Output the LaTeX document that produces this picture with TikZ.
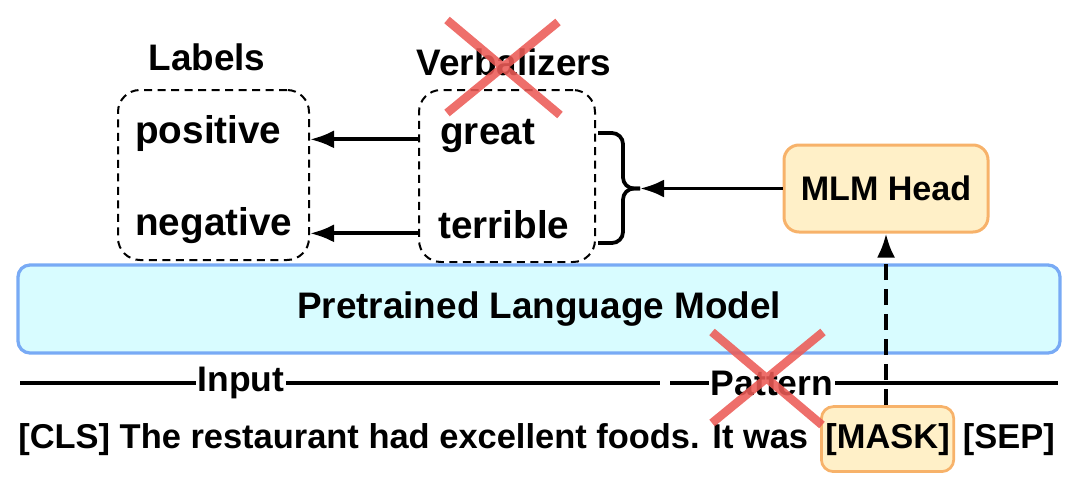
\documentclass[tikz,border=0pt]{standalone}
\usepackage{fontspec}
\setmainfont{Liberation Sans}
\usepackage{xcolor}
\usetikzlibrary{arrows.meta,positioning,calc}

\definecolor{plmfill}{HTML}{D8FCFF}
\definecolor{plmdraw}{HTML}{78AAF5}
\definecolor{headfill}{HTML}{FFF0C8}
\definecolor{headdraw}{HTML}{F7B26A}
\definecolor{crossred}{HTML}{EC5B56}

\begin{document}
\begin{tikzpicture}[
      x=0.2mm, y=-0.2mm,
      font=\fontsize{21}{25}\selectfont\bfseries,
      ttl/.style={inner sep=0pt, anchor=base},
      word/.style={inner sep=0pt, anchor=base west, font=\fontsize{22}{26}\selectfont\bfseries},
      grp/.style={draw, dashed, dash pattern=on 1.6mm off 1.1mm, line width=0.4mm,
                  rounded corners=4.4mm},
      arr/.style={-{Latex[length=4.8mm,width=3.6mm]}, line width=0.75mm},
      brc/.style={line width=0.75mm, rounded corners=2.2mm},
      plm/.style={draw=plmdraw, fill=plmfill, line width=0.65mm, rounded corners=2.4mm,
                  minimum width=208.4mm, minimum height=17.6mm},
      head/.style={draw=headdraw, fill=headfill, line width=0.6mm, rounded corners=3mm},
      rule/.style={line width=0.8mm},
      tag/.style={fill=white, inner xsep=0.3mm, inner ysep=0pt,
                  font=\fontsize{20.2}{24}\selectfont\bfseries},
      sent/.style={inner sep=0pt, anchor=base west,
                   font=\fontsize{19.6}{24}\selectfont\bfseries},
      cross/.style={crossred, line width=1.7mm, opacity=0.88}]

    \useasboundingbox (0,0) rectangle (1080,487);

    %% ---- top row: labels and verbalizers ----
    \node[ttl] (tl) at (207,70) {Labels};
    \node[ttl] (tv) at (514,75) {Verbalizers};
    \node[grp, minimum width=38.2mm, minimum height=34mm] (lbl) at (213.5,175) {};
    \node[grp, minimum width=35.2mm, minimum height=34.4mm] (vrb) at (507,176) {};
    \node[word] (pos) at (135,143) {positive};
    \node[word] (neg) at (135,235) {negative};
    \node[word] (gr) at (440,144) {great};
    \node[word] (te) at (438,238) {terrible};
    \draw[arr] (vrb.west |- gr.mid) -- (lbl.east |- gr.mid);
    \draw[arr] (vrb.west |- te.mid) -- (lbl.east |- te.mid);

    %% brace gathers both verbalizer words, fed by the head
    \coordinate (bt) at (598,133);
    \coordinate (bb) at (598,243);
    \coordinate (bm) at (623,188.5);
    \coordinate (tip) at (640,188.5);
    \draw[brc] (bt) -| (bm) -- (tip);
    \draw[brc] (bb) -| (bm) -- (tip);
    \node[head, minimum width=40.8mm, minimum height=17.4mm,
          font=\fontsize{19.4}{23}\selectfont\bfseries] (mlm) at (886,188.5) {MLM Head};
    \draw[arr] (mlm.west) -- (tip);

    %% ---- the language model ----
    \node[plm] (lm) at (539,309) {Pretrained Language Model};

    %% ---- input / pattern rules ----
    \draw[rule] (20,383) -- (660,383);
    \draw[rule] (670,383) -- (1058,383);
    \node[tag] (inp) at (241,383) {Input};
    \node[tag] (pat) at (772,383) {Pattern};

    %% ---- the sentence, with the masked slot boxed ----
    \node[sent] (snt) at (18,448) {[CLS] The restaurant had excellent foods. It was};
    \node[head, sent, inner xsep=0.8mm, minimum height=13mm, line width=0.55mm,
          rounded corners=2.4mm] (mask) at ([xshift=2.3mm]snt.base east) {[MASK]};
    \node[sent] (sep) at ([xshift=1.5mm]mask.base east) {[SEP]};
    \draw[arr, dash pattern=on 3.2mm off 1.8mm] (mlm.south |- mask.north) -- (mlm.south);

    %% ---- struck-out parts ----
    \draw[cross] (447,20) -- (560,115) (558,22) -- (447,113);
    \draw[cross] (712,332) -- (822,425) (823,332) -- (712,423);
  \end{tikzpicture}
\end{document}
